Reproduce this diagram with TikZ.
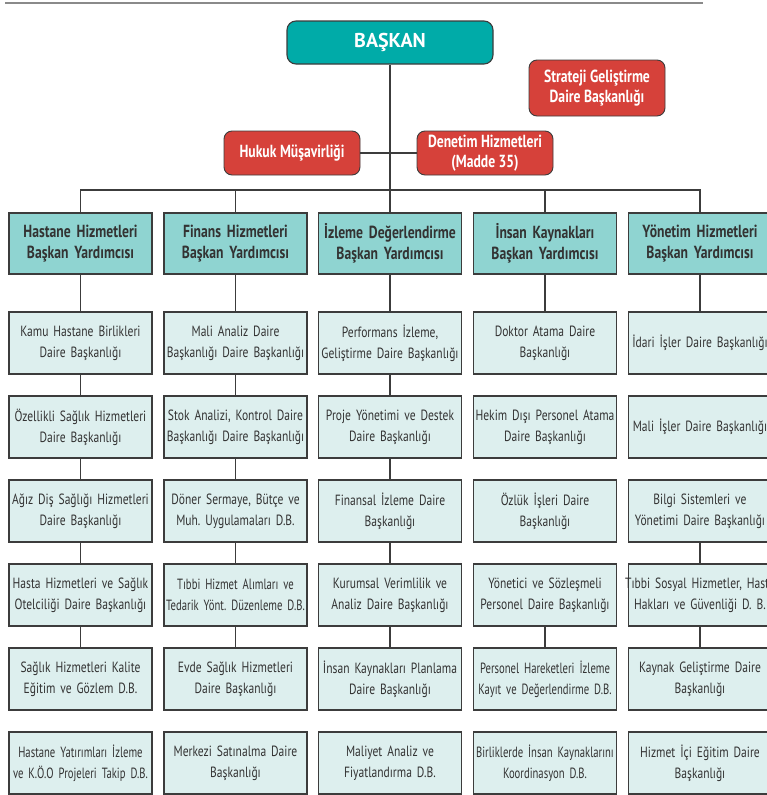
\documentclass[tikz,border=0pt]{standalone}
\usepackage{fontspec}
\setmainfont{PT Sans}[FakeStretch=0.78]
\newfontfamily\chieffont{PT Sans}
\newfontfamily\narrowfont{PT Sans}[FakeStretch=0.72]
\usepackage{tikz}

\definecolor{baskanteal}{HTML}{00ABA8}
\definecolor{headteal}{HTML}{8FD4D1}
\definecolor{unitfill}{HTML}{DDEFEE}
\definecolor{redbox}{HTML}{D6413A}
\definecolor{linegray}{HTML}{3C3C3C}
\definecolor{rulegray}{HTML}{8A8A8A}
\definecolor{textgray}{HTML}{333333}

% narrow word spaces, as in the condensed face of the chart
\newcommand\tightspace[1]{\fontdimen2\font=#1\fontdimen3\font=0pt\fontdimen4\font=0pt}

\begin{document}
\frenchspacing
\begin{tikzpicture}[x=1pt, y=-1pt,
    chief/.style={shape=rectangle, rounded corners=9pt, draw=linegray, line width=1.1pt, fill=baskanteal, text=white, font=\chieffont\fontsize{20}{22}\selectfont\bfseries, minimum width=206pt, minimum height=43pt},
    advisor/.style={shape=rectangle, rounded corners=8pt, draw=linegray, line width=0.9pt, fill=redbox, text=white, font=\fontsize{17.5}{20}\selectfont\bfseries\tightspace{0.2em}, align=center, inner sep=1pt, minimum width=136pt, minimum height=44pt},
    deputy/.style={shape=rectangle, draw=linegray, line width=1.1pt, fill=headteal, text=textgray, font=\fontsize{17.5}{21}\selectfont\bfseries\tightspace{0.2em}, align=center, text width=170pt, inner xsep=-13.5pt, minimum height=61pt},
    unit/.style={shape=rectangle, draw=linegray, line width=1.1pt, fill=unitfill, text=textgray, font=\fontsize{14.8}{21}\selectfont\tightspace{0.17em}, align=center, text width=170pt, inner xsep=-13.5pt, minimum height=62pt},
    squeeze/.style={font=\narrowfont\fontsize{14.8}{21}\selectfont\tightspace{0.15em}},
    conn/.style={draw=linegray, line width=1.1pt}]
    \useasboundingbox (0,0) rectangle (766,795);
    \draw[rulegray, line width=2pt] (5,3) -- (703,3);

    \node[chief] at (390,42.5) (BASKAN) {BAŞKAN};
    \node[advisor, minimum height=56pt] at (597,88) (SGDB) {Strateji Geliştirme\\Daire Başkanlığı};
    \node[advisor] at (292,153) (HUKUK) {Hukuk Müşavirliği};
    \node[advisor] at (485,153) (DENETIM) {Denetim Hizmetleri\\(Madde 35)};
    \coordinate (bus) at (390,190);

    \node[deputy] at (80.5,243.5) (H1) {Hastane Hizmetleri\\Başkan Yardımcısı};
    \node[deputy] at (235.5,243.5) (H2) {Finans Hizmetleri\\Başkan Yardımcısı};
    \node[deputy] at (390,243.5) (H3) {İzleme Değerlendirme\\Başkan Yardımcısı};
    \node[deputy] at (545,243.5) (H4) {İnsan Kaynakları\\Başkan Yardımcısı};
    \node[deputy] at (700,243.5) (H5) {Yönetim Hizmetleri\\Başkan Yardımcısı};

    \node[unit] at (80.5,343) (A1) {Kamu Hastane Birlikleri\\Daire Başkanlığı};
    \node[unit] at (80.5,427) (A2) {Özellikli Sağlık Hizmetleri\\Daire Başkanlığı};
    \node[unit] at (80.5,511) (A3) {Ağız Diş Sağlığı Hizmetleri\\Daire Başkanlığı};
    \node[unit] at (80.5,595) (A4) {Hasta Hizmetleri ve Sağlık\\Otelciliği Daire Başkanlığı};
    \node[unit] at (80.5,679) (A5) {Sağlık Hizmetleri Kalite\\Eğitim ve Gözlem D.B.};
    \node[unit, squeeze] at (80.5,763) (A6) {Hastane Yatırımları İzleme\\ve K.Ö.O Projeleri Takip D.B.};

    \node[unit] at (235.5,343) (B1) {Mali Analiz Daire\\Başkanlığı Daire Başkanlığı};
    \node[unit] at (235.5,427) (B2) {Stok Analizi, Kontrol Daire\\Başkanlığı Daire Başkanlığı};
    \node[unit] at (235.5,511) (B3) {Döner Sermaye, Bütçe ve\\Muh. Uygulamaları D.B.};
    \node[unit, squeeze] at (235.5,595) (B4) {Tıbbi Hizmet Alımları ve\\Tedarik Yönt. Düzenleme D.B.};
    \node[unit] at (235.5,679) (B5) {Evde Sağlık Hizmetleri\\Daire Başkanlığı};
    \node[unit] at (235.5,763) (B6) {Merkezi Satınalma Daire\\Başkanlığı};

    \node[unit] at (390,343) (C1) {Performans İzleme,\\Geliştirme Daire Başkanlığı};
    \node[unit] at (390,427) (C2) {Proje Yönetimi ve Destek\\Daire Başkanlığı};
    \node[unit] at (390,511) (C3) {Finansal İzleme Daire\\Başkanlığı};
    \node[unit] at (390,595) (C4) {Kurumsal Verimlilik ve\\Analiz Daire Başkanlığı};
    \node[unit] at (390,679) (C5) {İnsan Kaynakları Planlama\\Daire Başkanlığı};
    \node[unit] at (390,763) (C6) {Maliyet Analiz ve\\Fiyatlandırma D.B.};

    \node[unit] at (545,343) (D1) {Doktor Atama Daire\\Başkanlığı};
    \node[unit] at (545,427) (D2) {Hekim Dışı Personel Atama\\Daire Başkanlığı};
    \node[unit] at (545,511) (D3) {Özlük İşleri Daire\\Başkanlığı};
    \node[unit] at (545,595) (D4) {Yönetici ve Sözleşmeli\\Personel Daire Başkanlığı};
    \node[unit, squeeze] at (545,679) (D5) {Personel Hareketleri İzleme\\Kayıt ve Değerlendirme D.B.};
    \node[unit, squeeze] at (545,763) (D6) {Birliklerde İnsan Kaynaklarını\\Koordinasyon D.B.};

    \node[unit] at (700,343) (E1) {İdari İşler Daire Başkanlığı};
    \node[unit] at (700,427) (E2) {Mali İşler Daire Başkanlığı};
    \node[unit] at (700,511) (E3) {Bilgi Sistemleri ve\\Yönetimi Daire Başkanlığı};
    \node[unit] at (700,595) (E4) {Tıbbi Sosyal Hizmetler, Hasta\\Hakları ve Güvenliği D. B.};
    \node[unit] at (700,679) (E5) {Kaynak Geliştirme Daire\\Başkanlığı};
    \node[unit] at (700,763) (E6) {Hizmet İçi Eğitim Daire\\Başkanlığı};

    % top of the chart
    \path [conn] (BASKAN) edge (H3);
    \path [conn] (HUKUK) edge (DENETIM);
    \draw [conn] (H1.north) |- (bus) -| (H5.north);
    \draw [conn] (H2.north) |- (bus);
    \draw [conn] (H4.north) |- (bus);

    % columns
    \path [conn] (H1) edge (A1);
    \path [conn] (A1) edge (A2);
    \path [conn] (A2) edge (A3);
    \path [conn] (A3) edge (A4);
    \path [conn] (A4) edge (A5);
    \path [conn] (H2) edge (B1);
    \path [conn] (B1) edge (B2);
    \path [conn] (B2) edge (B3);
    \path [conn] (B3) edge (B4);
    \path [conn] (B4) edge (B5);
    \path [conn] (H3) edge (C1);
    \path [conn] (C1) edge (C2);
    \path [conn] (C2) edge (C3);
    \path [conn] (C3) edge (C4);
    \path [conn] (C4) edge (C5);
    \path [conn] (H4) edge (D1);
    \path [conn] (D4) edge (D5);
    \path [conn] (H5) edge (E1);
    \path [conn] (E3) edge (E4);
    \path [conn] (E4) edge (E5);
\end{tikzpicture}
\end{document}
